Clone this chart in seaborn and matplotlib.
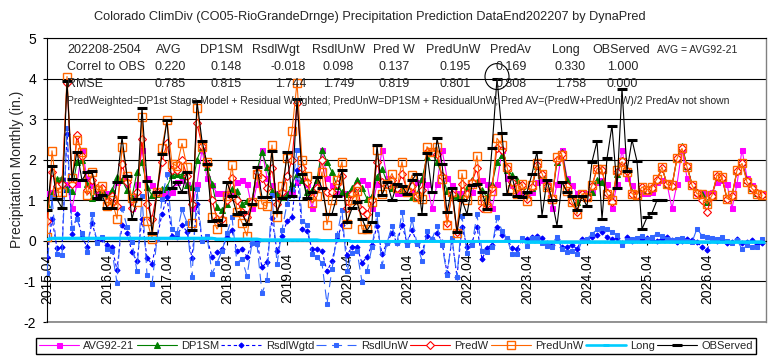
import numpy as np
import seaborn as sns
import matplotlib.pyplot as plt
from matplotlib.patches import Ellipse

# Monthly series, index 0 = 2015.04 ... 143 = 2027.03 (one row per year)
tick_labels = ['2015.04', '2016.04', '2017.04', '2018.04', '2019.04', '2020.04',
               '2021.04', '2022.04', '2023.04', '2024.04', '2025.04', '2026.04']

avg92_21 = [
    1.17, 1.2, 1.45, 1.5, 1.4, 0.8, 1.4, 2.25, 1.56, 1.37, 1.18, 1.18,
    1.17, 1.2, 1.45, 1.5, 1.4, 0.8, 1.4, 2.25, 1.56, 1.37, 1.18, 1.18,
    1.17, 1.2, 1.45, 1.5, 1.4, 0.8, 1.4, 2.25, 1.56, 1.37, 1.18, 1.18,
    1.17, 1.2, 1.45, 1.5, 1.4, 0.8, 1.4, 2.25, 1.56, 1.37, 1.18, 1.18,
    1.17, 1.2, 1.45, 1.5, 1.4, 0.8, 1.4, 2.25, 1.56, 1.37, 1.18, 1.18,
    1.17, 1.2, 1.45, 1.5, 1.4, 0.8, 1.4, 2.25, 1.56, 1.37, 1.18, 1.18,
    1.17, 1.2, 1.45, 1.5, 1.4, 0.8, 1.4, 2.25, 1.56, 1.37, 1.18, 1.18,
    1.17, 1.2, 1.45, 1.5, 1.4, 0.8, 1.4, 2.25, 1.56, 1.37, 1.18, 1.18,
    1.17, 1.2, 1.45, 1.5, 1.4, 0.8, 1.4, 2.25, 1.56, 1.37, 1.18, 1.18,
    1.17, 1.2, 1.45, 1.5, 1.4, 0.8, 1.4, 2.25, 1.56, 1.37, 1.18, 1.18,
    1.17, 1.2, 1.45, 1.5, 1.4, 0.8, 1.4, 2.25, 1.56, 1.37, 1.18, 1.18,
    1.17, 1.2, 1.45, 1.5, 1.4, 0.8, 1.4, 2.25, 1.56, 1.37, 1.18, 1.18,
]

dp1sm = [
    0.9, 1.15, 1.53, 1.56, 1.27, 1.24, 1.95, 2.0, 1.4, 1.05, 1.3, 1.25,
    1.05, 1.25, 1.57, 1.5, 1.25, 1.08, 1.7, 1.95, 1.33, 1.12, 1.15, 1.28,
    1.33, 1.62, 1.66, 1.62, 1.37, 1.33, 2.0, 2.32, 1.82, 1.41, 0.83, 0.75,
    0.91, 1.29, 1.24, 0.9, 0.99, 1.0, 1.74, 2.2, 1.82, 1.24, 1.16, 1.08,
    1.12, 1.41, 1.66, 1.5, 1.2, 1.25, 1.5, 2.25, 1.95, 1.7, 1.35, 1.2,
    1.15, 1.3, 1.49, 1.3, 1.04, 1.1, 1.58, 1.78, 1.45, 1.3, 1.35, 1.25,
    1.3, 1.08, 1.15, 1.53, 2.07, 2.16, 1.95, 1.62, 1.24, 1.12, 1.1, 1.05,
    1.3, 1.49, 1.45, 1.25, 1.08, 1.4, 1.95, 2.11, 1.75, 1.62, 1.49, 1.35,
    1.1, 1.3, 1.85, 1.65, 1.35, 1.05, 1.95, 2.2, 1.5, 1.0, 0.95, 1.15,
    1.1, 1.2, 1.5, 1.45, 1.2, 1.0, 1.65, 2.0, 1.75, 1.2, 1.15, 1.3,
    1.25, 1.3, 1.5, 1.8, 1.4, 1.35, 2.05, 2.35, 1.85, 1.4, 1.2, 1.15,
    0.95, 1.12, 1.6, 1.55, 1.05, 1.12, 1.72, 1.95, 1.5, 1.3, 1.18, 1.15,
]

rsdl_wgtd = [
    -0.4, 0.55, -0.18, -0.16, 2.63, 0.16, 0.65, 0.1, -0.15, 0.45, 0.0, 0.05,
    -0.1, -0.15, -0.72, 0.4, 0.2, -0.28, -0.5, 0.55, -0.43, -0.57, 0.05, 0.67,
    1.07, 0.13, 0.09, 0.38, 0.23, -0.43, 0.9, 0.03, 0.08, -0.41, -0.28, -0.2,
    0.09, 0.26, -0.24, -0.2, -0.39, -0.05, -0.04, -0.65, -0.52, 0.56, -0.26, 0.12,
    0.48, 0.59, 1.74, 0.3, 0.25, -0.2, -0.2, -0.25, -0.75, -0.5, 0.05, 0.4,
    -0.35, -0.15, -0.14, -0.55, -0.39, -0.1, 0.37, -0.33, -0.05, 0.2, -0.05, 0.4,
    -0.05, 0.27, -0.05, -0.28, 0.13, 0.04, 0.2, -0.02, -0.79, 0.03, -0.88, 0.35,
    -0.15, -0.04, 0.35, -0.45, -0.18, -0.1, 0.35, 0.14, 0.05, -0.17, -0.19, 0.03,
    0.05, 0.1, 0.12, 0.08, -0.05, -0.1, 0.05, -0.15, -0.16, -0.1, -0.2, 0.05,
    0.02, 0.09, 0.15, 0.22, 0.1, 0.05, 0.08, -0.05, 0.1, 0.0, 0.02, 0.05,
    0.08, 0.02, 0.0, 0.05, 0.1, 0.03, -0.02, 0.0, 0.05, 0.02, -0.03, -0.15,
    -0.22, 0.05, 0.0, 0.02, -0.05, -0.03, 0.05, -0.05, -0.03, 0.02, -0.08, -0.05,
]

rsdl_unw = [
    -0.8, 1.07, -0.33, -0.36, 2.78, 0.31, 0.53, 0.2, -0.28, 0.65, -0.05, 0.1,
    -0.2, -0.25, -1.03, 0.82, 0.35, -0.03, -0.75, 1.1, -0.83, -1.07, 0.05, 1.02,
    1.65, 0.28, 0.19, 0.78, 0.45, -0.9, 1.28, 0.0, 0.13, -0.81, -0.54, -0.25,
    0.19, 0.58, -0.54, -0.45, -0.87, -0.05, -0.08, -1.29, -0.97, 1.12, -0.58, 0.27,
    0.91, 1.29, 2.24, 0.5, 0.4, -0.32, -0.4, -0.55, -1.55, -0.7, 0.15, 0.75,
    -0.74, -0.3, -0.25, -1.01, -0.75, -0.15, 0.66, -0.62, -0.05, 0.36, -0.05, 0.7,
    -0.1, 0.54, -0.07, -0.49, 0.25, 0.04, 0.37, -0.09, -0.84, 0.08, -0.9, 0.61,
    -0.3, -0.09, 0.65, -0.25, -0.28, -0.16, 0.58, 0.25, 0.07, -0.33, -0.33, 0.06,
    -0.12, 0.07, 0.06, -0.05, -0.12, -0.15, 0.1, -0.2, -0.28, -0.25, -0.32, 0.0,
    0.05, 0.17, 0.28, 0.31, 0.3, 0.22, 0.15, -0.1, 0.02, 0.05, 0.08, 0.13,
    0.05, 0.1, 0.17, 0.12, 0.05, 0.02, 0.05, 0.08, 0.0, -0.03, 0.3, 0.13,
    0.1, 0.08, 0.05, 0.1, 0.0, -0.05, 0.02, -0.2, -0.1, -0.16, -0.15, 0.05,
]

pred_w = [
    0.5, 1.7, 1.35, 1.4, 3.9, 1.4, 2.6, 2.1, 1.25, 1.5, 1.3, 1.3,
    0.95, 1.1, 0.85, 1.9, 1.45, 0.8, 1.2, 2.5, 0.9, 0.55, 1.2, 1.95,
    2.4, 1.75, 1.75, 2.0, 1.6, 0.9, 2.9, 2.35, 1.9, 1.0, 0.55, 0.55,
    1.0, 1.55, 1.0, 0.7, 0.6, 0.95, 1.7, 1.55, 1.3, 1.8, 0.9, 1.2,
    1.6, 2.0, 3.4, 1.8, 1.45, 1.05, 1.3, 2.0, 1.2, 1.2, 1.4, 1.6,
    0.8, 1.15, 1.35, 0.75, 0.65, 1.0, 1.95, 1.45, 1.4, 1.5, 1.3, 1.65,
    1.25, 1.35, 1.1, 1.25, 2.2, 2.2, 2.15, 1.6, 0.45, 1.15, 0.22, 1.4,
    1.15, 1.45, 1.8, 0.8, 0.9, 1.3, 2.3, 2.25, 1.8, 1.45, 1.3, 1.38,
    1.04, 1.33, 1.88, 1.65, 1.34, 1.05, 2.0, 2.15, 1.35, 0.98, 0.72, 1.15,
    1.09, 1.36, 1.76, 1.75, 1.18, 0.95, 1.7, 1.98, 1.72, 1.15, 1.12, 1.32,
    1.25, 1.31, 1.5, 1.8, 1.4, 1.36, 2.04, 2.3, 1.84, 1.38, 1.18, 1.0,
    0.72, 1.1, 1.6, 1.56, 1.02, 1.1, 1.73, 1.93, 1.48, 1.3, 1.17, 1.14,
]

pred_unw = [
    0.1, 2.22, 1.2, 1.2, 4.05, 1.55, 2.48, 2.2, 1.12, 1.7, 1.25, 1.35,
    0.85, 1.0, 0.54, 2.32, 1.6, 1.05, 0.95, 3.05, 0.5, 0.05, 1.2, 2.3,
    2.98, 1.9, 1.85, 2.4, 1.82, 0.43, 3.28, 2.32, 1.95, 0.6, 0.29, 0.5,
    1.1, 1.87, 0.7, 0.45, 0.12, 0.95, 1.66, 0.91, 0.85, 2.36, 0.58, 1.35,
    2.03, 2.7, 3.9, 2.0, 1.6, 0.93, 1.1, 1.7, 0.4, 1.0, 1.5, 1.95,
    0.41, 1.0, 1.24, 0.29, 0.29, 0.95, 2.24, 1.16, 1.4, 1.66, 1.3, 1.95,
    1.2, 1.62, 1.08, 1.04, 2.32, 2.2, 2.32, 1.53, 0.4, 1.2, 0.2, 1.66,
    1.0, 1.4, 2.1, 1.0, 0.8, 1.24, 2.53, 2.36, 1.82, 1.29, 1.16, 1.41,
    0.98, 1.37, 1.91, 1.66, 1.33, 1.04, 2.07, 2.11, 1.24, 0.95, 0.66, 1.16,
    1.08, 1.37, 1.78, 1.76, 1.16, 1.0, 1.74, 1.95, 1.7, 1.16, 1.14, 1.33,
    1.26, 1.33, 1.53, 1.82, 1.39, 1.37, 2.03, 2.28, 1.82, 1.37, 1.16, 1.16,
    0.91, 1.12, 1.62, 1.58, 1.04, 1.12, 1.74, 1.91, 1.45, 1.29, 1.16, 1.12,
]

long_fc = [
    0.04, 0.07, 0.07, 0.07, 0.07, 0.07, 0.07, 0.07, 0.07, 0.07, 0.07, 0.07,
    0.07, 0.07, 0.07, 0.07, 0.07, 0.07, 0.07, 0.07, 0.07, 0.07, 0.07, 0.07,
    0.07, 0.07, 0.07, 0.07, 0.07, 0.07, 0.07, 0.07, 0.07, 0.07, 0.05, 0.05,
    0.05, 0.05, 0.05, 0.05, 0.05, 0.05, 0.05, 0.03, 0.03, 0.03, 0.03, 0.03,
    0.03, 0.03, 0.03, 0.03, 0.03, 0.03, 0.03, 0.01, 0.01, 0.01, 0.01, 0.01,
    0.01, -0.01, -0.01, -0.01, -0.01, -0.01, -0.01, -0.01, -0.01, -0.01, -0.01, -0.01,
    -0.01, -0.01, -0.01, -0.01, -0.01, -0.01, -0.01, -0.01, -0.01, -0.01, -0.01, -0.01,
    -0.01, -0.01, -0.01, -0.01, -0.01, -0.01, -0.01, -0.01, -0.01, -0.01, -0.01, -0.01,
    -0.02, -0.02, -0.02, -0.02, -0.02, -0.02, -0.02, -0.02, -0.02, -0.02, -0.02, -0.02,
    -0.02, -0.02, -0.02, -0.02, -0.02, -0.02, -0.02, -0.02, -0.02, -0.02, -0.02, -0.02,
    -0.02, -0.02, -0.02, -0.02, -0.02, -0.02, -0.02, -0.02, -0.02, -0.02, -0.02, -0.02,
    -0.02, -0.02, -0.02, -0.02, -0.02, -0.02, -0.02, -0.02, -0.02, -0.02, -0.02, -0.02,
]

observed = [
    0.75, 1.84, 1.02, 0.81, 3.95, 1.52, 2.2, 1.49, 1.7, 1.72, 1.05, 1.13,
    0.82, 0.8, 1.45, 2.55, 1.6, 0.54, 1.04, 3.28, 1.47, 0.2, 1.2, 2.14,
    2.97, 1.3, 1.45, 1.2, 1.7, 0.27, 3.44, 2.47, 1.9, 0.5, 0.52, 0.4,
    1.45, 1.1, 0.66, 0.7, 0.41, 0.9, 1.82, 1.08, 1.08, 2.22, 0.7, 1.05,
    2.18, 1.1, 3.5, 1.66, 1.05, 1.2, 1.58, 1.3, 0.66, 0.66, 1.1, 1.74,
    0.46, 0.8, 0.95, 0.55, 0.25, 0.46, 2.36, 1.12, 1.45, 1.0, 1.41, 1.35,
    1.16, 1.5, 1.66, 0.66, 2.16, 1.2, 2.53, 1.9, 0.7, 1.3, 0.21, 1.0,
    0.66, 1.37, 1.4, 1.2, 0.79, 2.28, 4.0, 2.65, 1.16, 1.58, 1.1, 1.08,
    1.2, 1.65, 2.2, 0.62, 1.5, 1.0, 0.37, 1.45, 1.2, 1.1, 0.75, 1.1,
    0.85, 1.95, 2.45, 0.54, 2.03, 2.84, 1.3, 3.75, 1.72, 2.49, 1.96, 0.29,
    0.58, 0.69, 1.0, 1.0,
]

stat_cols = ['AVG', 'DP1SM', 'RsdlWgt', 'RsdlUnW', 'Pred W', 'PredUnW', 'PredAv', 'Long', 'OBServed']
correl = ['0.220', '0.148', '-0.018', '0.098', '0.137', '0.195', '0.169', '0.330', '1.000']
rmse = ['0.785', '0.815', '1.744', '1.749', '0.819', '0.801', '0.808', '1.758', '0.000']

sns.set_theme(style="white")
plt.rcParams['font.family'] = ['Liberation Sans', 'DejaVu Sans']
plt.rcParams['axes.unicode_minus'] = False

W, H = 771, 360
fig = plt.figure(figsize=(W / 100, H / 100), dpi=100)
ax = fig.add_axes([47 / W, 1 - 322 / H, 719 / W, 284 / H])


def fxy(x, y):
    # pixel position -> figure fraction
    return x / W, 1 - y / H


series = [
    ('AVG92-21', avg92_21, dict(color='#FF00FF', lw=0.8, marker='s', markersize=3.6,
                                markeredgecolor='#FF00FF', markerfacecolor='#FF00FF')),
    ('DP1SM', dp1sm, dict(color='#008000', lw=0.8, marker='^', markersize=4.2,
                          markeredgecolor='#008000', markerfacecolor='#008000')),
    ('RsdlWgtd', rsdl_wgtd, dict(color='#0000FF', lw=0.8, linestyle=(0, (3, 2.5)), marker='D',
                                 markersize=2.6, markeredgecolor='#0000FF', markerfacecolor='#0000FF')),
    ('RsdlUnW', rsdl_unw, dict(color='#3366FF', lw=0.8, linestyle=(0, (9, 5)), marker='s',
                               markersize=3.4, markeredgecolor='#3366FF', markerfacecolor='#3366FF')),
    ('PredW', pred_w, dict(color='#FF0000', lw=0.8, marker='D', markersize=4.2,
                           markeredgecolor='#FF0000', markerfacecolor='white', markeredgewidth=0.8)),
    ('PredUnW', pred_unw, dict(color='#FF6600', lw=0.8, marker='s', markersize=5.2,
                               markeredgecolor='#FF6600', markerfacecolor='none', markeredgewidth=1.0)),
    ('Long', long_fc, dict(color='#00CCFF', lw=1.9, marker='_', markersize=5,
                           markeredgecolor='#00CCFF', markeredgewidth=2)),
    ('OBServed', observed, dict(color='black', lw=0.8, marker='_', markersize=6.5,
                                markeredgecolor='black', markeredgewidth=2.2)),
]

for i, (name, vals, kw) in enumerate(series):
    sns.lineplot(x=np.arange(len(vals)), y=vals, ax=ax, label=name,
                 errorbar=None, zorder=3 + i, **kw)

# axes styling (Excel-like); move the category axis to y=0 before setting ticks
ax.spines['bottom'].set_position(('data', 0))
for side in ['bottom', 'left', 'top']:
    ax.spines[side].set_color('black')
    ax.spines[side].set_linewidth(0.8)
ax.spines['right'].set_color('#808080')
ax.spines['right'].set_linewidth(1)

ax.set_xlim(0, 143.8)
ax.set_ylim(-2, 5)
ax.set_yticks(range(-2, 6))
ax.set_yticklabels([str(v) for v in range(-2, 6)], fontsize=10)
ax.set_xticks(range(0, 144, 12))
ax.set_xticklabels(tick_labels, rotation=90, fontsize=10)
ax.tick_params(axis='y', direction='out', length=3, width=0.8, pad=5, left=True, colors='black')
ax.tick_params(axis='x', direction='out', length=3, width=0.8, pad=6, bottom=True, colors='black',
               labelrotation=90)
ax.set_xlabel('')
ax.set_ylabel('')

ax.grid(axis='y', color='black', lw=0.8)
ax.grid(axis='x', visible=False)
ax.set_axisbelow(True)
ax.axhline(-2, color='#808080', lw=1.2, clip_on=False, zorder=1)

# circle annotation around the 2022 peak
ax.add_patch(Ellipse((90, 4.05), 4.8, 0.64, fill=False, edgecolor='black', lw=0.8,
                     clip_on=False, zorder=20))

# titles
fig.text(*fxy(370, 17), 'Colorado ClimDiv (CO05-RioGrandeDrnge) Precipitation Prediction DataEnd202207 by DynaPred',
         ha='center', va='center', fontsize=9.2)
fig.text(*fxy(17, 169), 'Precipitation Monthly (in.)', rotation=90, ha='center', va='center', fontsize=10)

# statistics table inside the plot
hdr_x = [156, 200, 252, 312, 373, 426, 490, 552, 592]
num_right = [186, 242, 306, 354, 410, 471, 527, 586, 638]
fig.text(*fxy(67, 50), '202208-2504', ha='left', va='center', fontsize=9, zorder=30)
fig.text(*fxy(67, 67), 'Correl to OBS', ha='left', va='center', fontsize=9, zorder=30)
fig.text(*fxy(67, 84), 'RMSE', ha='left', va='center', fontsize=9, zorder=30)
for hx, rx, h, c, r in zip(hdr_x, num_right, stat_cols, correl, rmse):
    fig.text(*fxy(hx, 50), h, ha='left', va='center', fontsize=9, zorder=30)
    fig.text(*fxy(rx, 67), c, ha='right', va='center', fontsize=9, zorder=30)
    fig.text(*fxy(rx, 84), r, ha='right', va='center', fontsize=9, zorder=30)
fig.text(*fxy(657, 50), 'AVG = AVG92-21', ha='left', va='center', fontsize=7.5, zorder=30)
fig.text(*fxy(67, 101),
         'PredWeighted=DP1st Stage Model + Residual Weighted; PredUnW=DP1SM + ResidualUnW; '
         'Pred AV=(PredW+PredUnW)/2 PredAv not shown',
         ha='left', va='center', fontsize=7.5, zorder=30)

# legend box along the bottom
handles, labels = ax.get_legend_handles_labels()
x0, y0 = fxy(30, 356)
x1, y1 = fxy(762, 336)
leg = ax.legend(handles, labels, ncol=8, mode='expand', loc='center',
                bbox_to_anchor=(x0, y0, x1 - x0, y1 - y0), bbox_transform=fig.transFigure,
                fontsize=8, handlelength=3.6, handletextpad=0.4, borderpad=0.3,
                frameon=True, fancybox=False, edgecolor='black', framealpha=1)
leg.get_frame().set_linewidth(1.0)

fig.savefig('out.png', dpi=100)
